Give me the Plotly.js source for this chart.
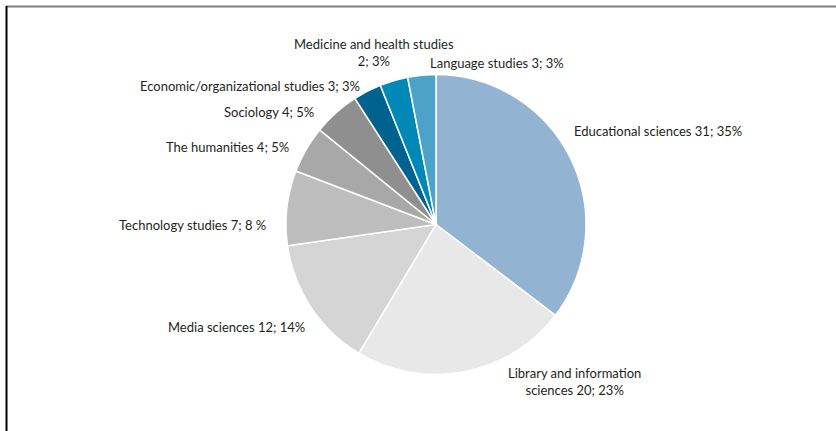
<!DOCTYPE html>
<html>
<head>
<meta charset="utf-8">
<script src="https://cdn.plot.ly/plotly-3.0.1.min.js"></script>
<style>
html,body{margin:0;padding:0;background:#fff;}
#chart{width:836px;height:431px;}
</style>
</head>
<body>
<div id="chart"></div>
<script>
const categories = ["Educational sciences", "Library and information sciences", "Media sciences", "Technology studies", "The humanities", "Sociology", "Economic/organizational studies", "Medicine and health studies", "Language studies"];
const counts = [31, 20, 12, 7, 4, 4, 3, 2, 3];
// slice sizes follow the printed percentages
const percents = [35, 23, 14, 8, 5, 5, 3, 3, 3];
const labelTexts = [
  "Educational sciences 31; 35%",
  "Library and information<br>sciences 20; 23%",
  "Media sciences 12; 14%",
  "Technology studies 7; 8 %",
  "The humanities 4; 5%",
  "Sociology 4; 5%",
  "Economic/organizational studies 3; 3%",
  "Medicine and health studies<br>2; 3%",
  "Language studies 3; 3%"
];
const colors = ["#93b3d3", "#e8e8e8", "#d5d5d5", "#bdbdbd", "#a8a8a8", "#8f8f8f", "#00628f", "#0089b6", "#4ba3c8"];

const W = 836, H = 431;
// label placement in pixels: [x, y, xanchor]
const labelPos = [
  [572, 131, "left"],
  [574, 381, "center"],
  [307, 327, "right"],
  [268, 225, "right"],
  [291, 147, "right"],
  [316, 112, "right"],
  [362, 86, "right"],
  [374, 52, "center"],
  [428, 63, "left"]
];

const annotations = labelTexts.map((t, i) => ({
  text: t,
  xref: "paper", yref: "paper",
  x: labelPos[i][0] / W,
  y: 1 - labelPos[i][1] / H,
  xanchor: labelPos[i][2],
  yanchor: "middle",
  align: "center",
  showarrow: false,
  font: {family: "Lato, 'Open Sans', sans-serif", size: 13, color: "#231f20"}
}));

const cx = 436, cy = 224.5, r = 150;
const trace = {
  type: "pie",
  labels: categories,
  values: percents,
  customdata: counts,
  sort: false,
  direction: "clockwise",
  rotation: 0,
  textinfo: "none",
  hoverinfo: "label+value",
  marker: {colors: colors, line: {color: "#ffffff", width: 1.5}},
  domain: {x: [(cx - r) / W, (cx + r) / W], y: [1 - (cy + r) / H, 1 - (cy - r) / H]},
  showlegend: false
};

const layout = {
  width: W, height: H,
  margin: {l: 0, r: 0, t: 0, b: 0},
  paper_bgcolor: "#ffffff",
  showlegend: false,
  annotations: annotations,
  shapes: [
    {type: "line", xref: "paper", yref: "paper", x0: 6 / W, x1: 1, y0: 1 - 6.5 / H, y1: 1 - 6.5 / H, line: {color: "#808080", width: 2}},
    {type: "line", xref: "paper", yref: "paper", x0: 6.5 / W, x1: 6.5 / W, y0: 0, y1: 1 - 6 / H, line: {color: "#000000", width: 2}}
  ]
};

Plotly.newPlot("chart", [trace], layout, {staticPlot: true, displayModeBar: false});
</script>
</body>
</html>
